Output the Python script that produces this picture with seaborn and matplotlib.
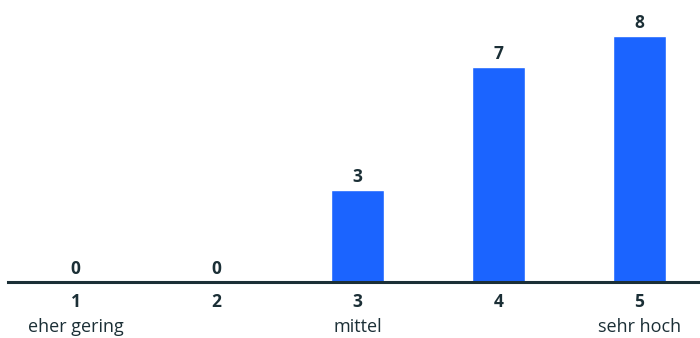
import matplotlib
matplotlib.use("Agg")
import matplotlib.pyplot as plt
import matplotlib.transforms as mtransforms
import seaborn as sns
import pandas as pd

# Rating scale 1..5 with response counts
scale = ["1", "2", "3", "4", "5"]
counts = [0, 0, 3, 7, 8]
anchors = ["eher gering", "", "mittel", "", "sehr hoch"]

sns.set_theme(style="white")
plt.rcParams["font.family"] = ["Open Sans", "DejaVu Sans"]

text_color = "#1b2f36"
bar_color = "#1b64ff"

df = pd.DataFrame({"scale": scale, "count": counts})

fig = plt.figure(figsize=(7.0, 3.38), dpi=100)
ax = fig.add_axes([8 / 700, 56 / 338, 692 / 700, 276.75 / 338])

sns.barplot(data=df, x="scale", y="count", color=bar_color, width=0.376,
            saturation=1, ax=ax)

ax.set_xlim(-0.48, 4.43)
ax.set_ylim(0, 9)
ax.set_xlabel("")
ax.set_ylabel("")
ax.set_yticks([])
for side in ["top", "right", "left"]:
    ax.spines[side].set_visible(False)
ax.spines["bottom"].set_color(text_color)
ax.spines["bottom"].set_linewidth(2.2)

# value labels above bars
for i, v in enumerate(counts):
    ax.annotate(str(v), (i, v), xytext=(0, 3), textcoords="offset points",
                ha="center", va="bottom", fontsize=12.5, fontweight="bold",
                color=text_color)

# scale numbers
ax.set_xticks(range(len(scale)))
ax.set_xticklabels(scale, fontsize=12.5, fontweight="bold", color=text_color)
ax.tick_params(axis="x", length=0, pad=8)

# anchor descriptions under the scale numbers
trans = mtransforms.blended_transform_factory(ax.transData, fig.transFigure)
for i, a in enumerate(anchors):
    if a:
        ax.text(i, 1 - 327 / 338, a, transform=trans, ha="center", va="center",
                fontsize=13, color=text_color)

fig.savefig("out.png", dpi=100)
